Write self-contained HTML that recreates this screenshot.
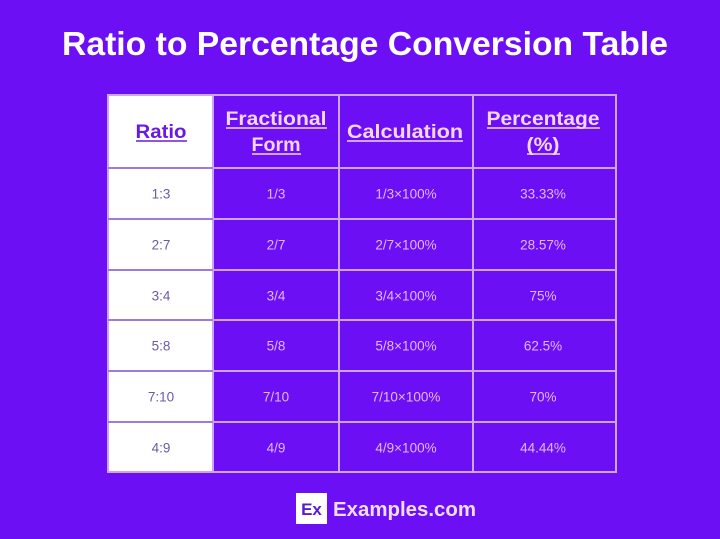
<!DOCTYPE html>
<html><head><meta charset="utf-8"><style>
html,body{margin:0;padding:0;background:#6d0ff4;}
svg{display:block;}
text{font-family:"Liberation Sans",sans-serif;}
</style></head><body>
<svg width="720" height="539" viewBox="0 0 720 539" xmlns="http://www.w3.org/2000/svg">
<rect width="720" height="539" fill="#6d0ff4"/>
<text x="365" y="55" text-anchor="middle" font-size="33" font-weight="bold" fill="#ffffff" textLength="606" lengthAdjust="spacingAndGlyphs">Ratio to Percentage Conversion Table</text>
<!-- white first column -->
<rect x="108" y="95" width="105" height="377" fill="#ffffff"/>
<!-- grid lines -->
<g stroke="#cfa4f7" stroke-width="2" fill="none">
<rect x="108" y="95" width="508" height="377"/>
<line x1="213" y1="95" x2="213" y2="472"/>
<line x1="339" y1="95" x2="339" y2="472"/>
<line x1="473" y1="95" x2="473" y2="472"/>
<line x1="108" y1="168" x2="616" y2="168"/>
<line x1="108" y1="219" x2="616" y2="219"/>
<line x1="108" y1="270" x2="616" y2="270"/>
<line x1="108" y1="320" x2="616" y2="320"/>
<line x1="108" y1="371" x2="616" y2="371"/>
<line x1="108" y1="422" x2="616" y2="422"/>
</g>
<g stroke="#a07ad8" stroke-width="2">
<line x1="108" y1="168" x2="213" y2="168"/>
<line x1="108" y1="219" x2="213" y2="219"/>
<line x1="108" y1="270" x2="213" y2="270"/>
<line x1="108" y1="320" x2="213" y2="320"/>
<line x1="108" y1="371" x2="213" y2="371"/>
<line x1="108" y1="422" x2="213" y2="422"/>
</g>
<!-- headers -->
<g font-size="19" font-weight="bold" text-anchor="middle">
<text x="161" y="138" fill="#6a1ae0" textLength="51" lengthAdjust="spacingAndGlyphs">Ratio</text>
<text x="276" y="125" fill="#f3d6ff" textLength="101" lengthAdjust="spacingAndGlyphs">Fractional</text>
<text x="276" y="151" fill="#f3d6ff" textLength="49" lengthAdjust="spacingAndGlyphs">Form</text>
<text x="405" y="138" fill="#f3d6ff" textLength="116" lengthAdjust="spacingAndGlyphs">Calculation</text>
<text x="543" y="125" fill="#f3d6ff" textLength="113" lengthAdjust="spacingAndGlyphs">Percentage</text>
<text x="543" y="151" fill="#f3d6ff" textLength="33" lengthAdjust="spacingAndGlyphs">(%)</text>
</g>
<g stroke="#f3d6ff" stroke-width="1.6">
<line x1="136" y1="141" x2="187" y2="141" stroke="#6a1ae0"/>
<line x1="226" y1="128" x2="327" y2="128"/>
<line x1="252" y1="154" x2="301" y2="154"/>
<line x1="347" y1="141" x2="463" y2="141"/>
<line x1="487" y1="128" x2="600" y2="128"/>
<line x1="527" y1="154" x2="560" y2="154"/>
</g>
<!-- body -->
<g font-size="13.5" text-anchor="middle">
<g fill="#6e58a8">
<text x="161" y="198.5">1:3</text>
<text x="161" y="249.5">2:7</text>
<text x="161" y="300.5">3:4</text>
<text x="161" y="350.5">5:8</text>
<text x="161" y="401.5">7:10</text>
<text x="161" y="452.5">4:9</text>
</g>
<g fill="#e3b8ff">
<text x="276" y="198.5">1/3</text>
<text x="276" y="249.5">2/7</text>
<text x="276" y="300.5">3/4</text>
<text x="276" y="350.5">5/8</text>
<text x="276" y="401.5">7/10</text>
<text x="276" y="452.5">4/9</text>
<text x="406" y="198.5">1/3×100%</text>
<text x="406" y="249.5">2/7×100%</text>
<text x="406" y="300.5">3/4×100%</text>
<text x="406" y="350.5">5/8×100%</text>
<text x="406" y="401.5">7/10×100%</text>
<text x="406" y="452.5">4/9×100%</text>
<text x="543" y="198.5">33.33%</text>
<text x="543" y="249.5">28.57%</text>
<text x="543" y="300.5">75%</text>
<text x="543" y="350.5">62.5%</text>
<text x="543" y="401.5">70%</text>
<text x="543" y="452.5">44.44%</text>
</g>
</g>
<!-- footer -->
<rect x="296" y="493" width="31" height="31" fill="#ffffff"/>
<text x="311.5" y="515" text-anchor="middle" font-size="17" font-weight="bold" fill="#5a1ad0">Ex</text>
<text x="333" y="516" font-size="20" font-weight="bold" fill="#f0dcff" textLength="143" lengthAdjust="spacingAndGlyphs">Examples.com</text>
</svg>
</body></html>
